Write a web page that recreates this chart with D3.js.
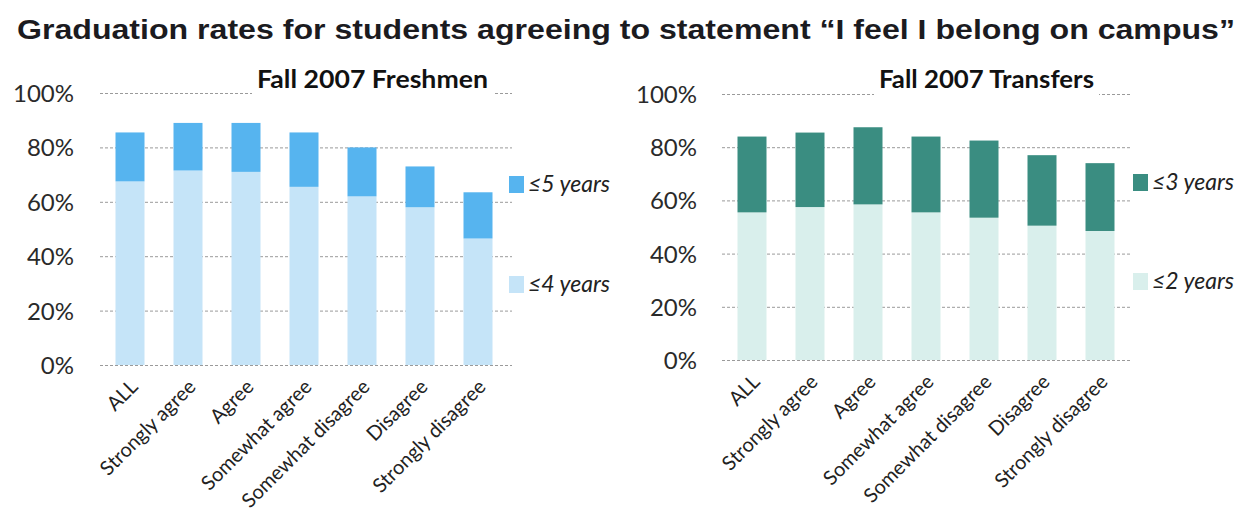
<!DOCTYPE html>
<html>
<head>
<meta charset="utf-8">
<script src="https://cdn.jsdelivr.net/npm/d3@7"></script>
<style>
  html, body { margin: 0; padding: 0; background: #fff; }
  svg { display: block; }
</style>
</head>
<body>
<svg id="chart" width="1244" height="527"></svg>
<script>
// ---- data ----
const categories = ["ALL", "Strongly agree", "Agree", "Somewhat agree", "Somewhat disagree", "Disagree", "Strongly disagree"];
const yTicks = [0, 20, 40, 60, 80, 100];
// Fall 2007 Freshmen: cumulative graduation rate (%)
const freshmenWithin4 = [67.5, 71.5, 71, 65.5, 62, 58, 46.5];
const freshmenWithin5 = [85.5, 89, 89, 85.5, 80, 73, 63.5];
// Fall 2007 Transfers: cumulative graduation rate (%)
const transfersWithin2 = [55.5, 57.5, 58.5, 55.5, 53.5, 50.5, 48.5];
const transfersWithin3 = [84, 85.5, 87.5, 84, 82.5, 77, 74];

const titleText = "Graduation rates for students agreeing to statement \u201cI feel I belong on campus\u201d";

const svg = d3.select("#chart");
const bodyFont = "Lato, 'Open Sans', sans-serif";

svg.append("text")
  .attr("x", 17).attr("y", 39)
  .attr("font-family", "'Liberation Sans', Arial, sans-serif")
  .attr("font-weight", "bold")
  .attr("font-size", 28)
  .attr("fill", "#1b1b1f")
  .attr("textLength", 1218)
  .attr("lengthAdjust", "spacingAndGlyphs")
  .text(titleText);

function drawPanel(cfg) {
  const g = svg.append("g");
  const x = d3.scaleBand().domain(categories).range([cfg.x0, cfg.x1]).paddingInner(0.5).paddingOuter(0.25);
  const y = d3.scaleLinear().domain([0, 100]).range([cfg.yBottom, cfg.yTop]);

  // gridlines
  g.append("g").selectAll("line").data(yTicks).join("line")
    .attr("x1", cfg.gx0).attr("x2", cfg.gx1)
    .attr("y1", d => y(d) + 0.5).attr("y2", d => y(d) + 0.5)
    .attr("stroke", "#9a9a9a").attr("stroke-width", 1)
    .attr("stroke-dasharray", "3,2");

  // subtitle with white backing over the 100% gridline
  g.append("rect")
    .attr("x", cfg.subX - 5).attr("y", y(100) - 6)
    .attr("width", cfg.subW + 10).attr("height", 12)
    .attr("fill", "#fff");
  g.append("text")
    .attr("x", cfg.subX).attr("y", 88)
    .attr("font-family", bodyFont).attr("font-weight", "bold")
    .attr("font-size", 24).attr("fill", "#111")
    .attr("textLength", cfg.subW).attr("lengthAdjust", "spacingAndGlyphs")
    .text(cfg.subtitle);

  // y axis labels
  const yAxis = d3.axisLeft(y).tickValues(yTicks).tickFormat(d => d + "%").tickSize(0).tickPadding(0);
  const ya = g.append("g").attr("transform", `translate(${cfg.yLabelX},0)`).call(yAxis);
  ya.select(".domain").remove();
  ya.selectAll("text")
    .attr("font-family", bodyFont).attr("font-size", 24)
    .attr("fill", "#2a2a2a").attr("dy", "0.35em");

  // bars
  g.append("g").selectAll("rect").data(categories).join("rect")
    .attr("x", d => x(d)).attr("width", x.bandwidth())
    .attr("y", (d, i) => y(cfg.lower[i]))
    .attr("height", (d, i) => y(0) - y(cfg.lower[i]))
    .attr("fill", cfg.lightColor);
  g.append("g").selectAll("rect").data(categories).join("rect")
    .attr("x", d => x(d)).attr("width", x.bandwidth())
    .attr("y", (d, i) => y(cfg.upper[i]))
    .attr("height", (d, i) => y(cfg.lower[i]) - y(cfg.upper[i]))
    .attr("fill", cfg.darkColor);

  // x axis labels (rotated)
  const xAxis = d3.axisBottom(x).tickSize(0).tickPadding(0);
  const xa = g.append("g").attr("transform", `translate(0,${cfg.yBottom})`).call(xAxis);
  xa.select(".domain").remove();
  xa.selectAll("text")
    .attr("font-family", bodyFont).attr("font-size", 20).attr("fill", "#222")
    .attr("text-anchor", "end")
    .attr("dy", null).attr("y", null)
    .attr("transform", "translate(9,23) rotate(-45)");

  // legend
  const lg = g.append("g");
  cfg.legend.forEach(item => {
    lg.append("rect")
      .attr("x", cfg.legX).attr("y", item.y - 8)
      .attr("width", 15).attr("height", 17)
      .attr("fill", item.color);
    lg.append("text")
      .attr("x", cfg.legX + 19).attr("y", item.y)
      .attr("dy", "0.35em")
      .attr("font-family", bodyFont).attr("font-style", "italic")
      .attr("font-size", 23).attr("fill", "#222")
      .text(item.label);
  });
}

drawPanel({
  x0: 101, x1: 507, gx0: 100, gx1: 512,
  yBottom: 365, yTop: 93, yLabelX: 74,
  subtitle: "Fall 2007 Freshmen", subX: 257, subW: 231,
  lower: freshmenWithin4, upper: freshmenWithin5,
  lightColor: "#c5e4f8", darkColor: "#56b4ef",
  legX: 509,
  legend: [
    { label: "\u22645 years", color: "#56b4ef", y: 184 },
    { label: "\u22644 years", color: "#c5e4f8", y: 284 }
  ]
});

drawPanel({
  x0: 723, x1: 1129, gx0: 722, gx1: 1131,
  yBottom: 360, yTop: 94, yLabelX: 697,
  subtitle: "Fall 2007 Transfers", subX: 879, subW: 215,
  lower: transfersWithin2, upper: transfersWithin3,
  lightColor: "#d9efec", darkColor: "#3a8d81",
  legX: 1133,
  legend: [
    { label: "\u22643 years", color: "#3a8d81", y: 182 },
    { label: "\u22642 years", color: "#d9efec", y: 281 }
  ]
});
</script>
</body>
</html>
